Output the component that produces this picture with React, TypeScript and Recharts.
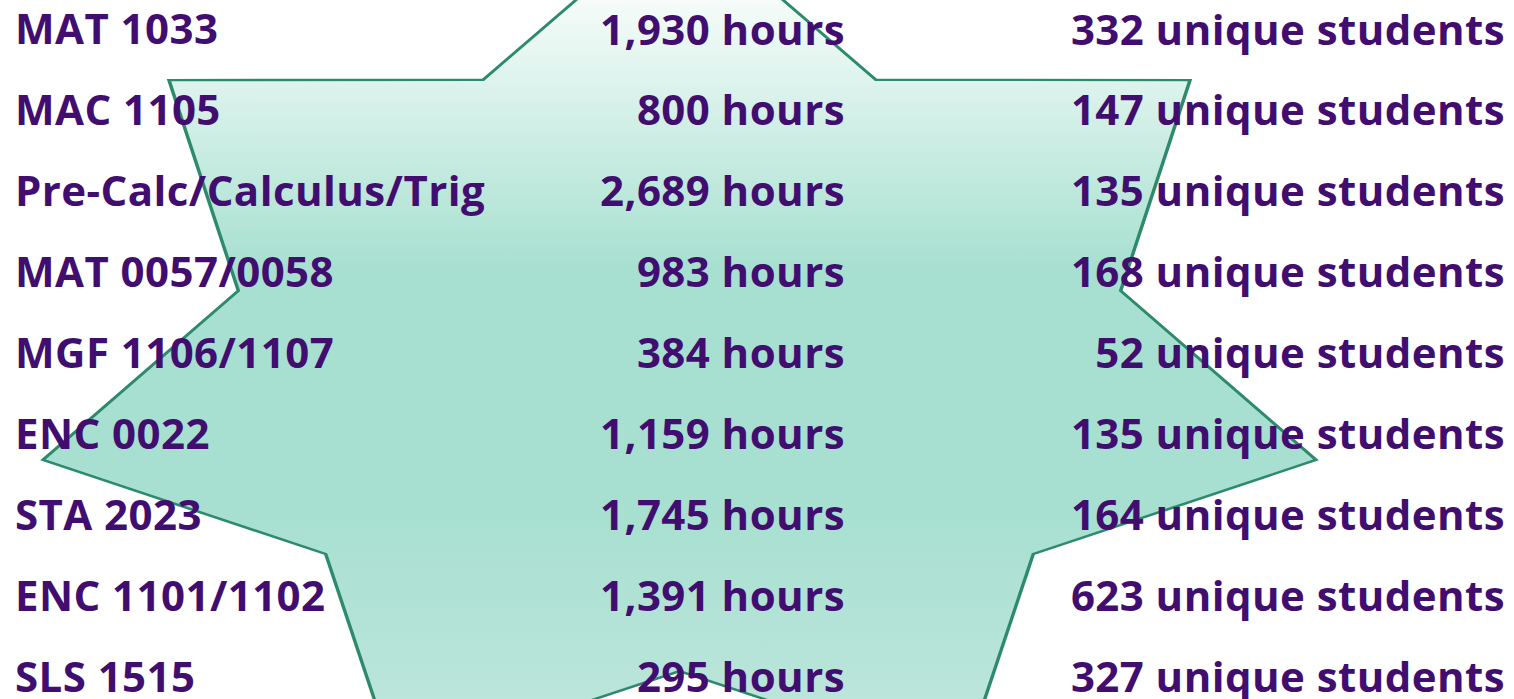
import React from 'react';
import {
  BarChart, Bar, XAxis, YAxis, LabelList,
  RadarChart, Radar, PolarAngleAxis, PolarRadiusAxis,
} from 'recharts';

// ---- table data ----
const courses = [
  'MAT 1033',
  'MAC 1105',
  'Pre-Calc/Calculus/Trig',
  'MAT 0057/0058',
  'MGF 1106/1107',
  'ENC 0022',
  'STA 2023',
  'ENC 1101/1102',
  'SLS 1515',
];
const hours = [1930, 800, 2689, 983, 384, 1159, 1745, 1391, 295];
const students = [332, 147, 135, 168, 52, 135, 164, 623, 327];

// ---- background 7-point star (outer / inner radius, clockwise from top) ----
const starKeys = ['p1', 'i1', 'p2', 'i2', 'p3', 'i3', 'p4', 'i4', 'p5', 'i5', 'p6', 'i6', 'p7', 'i7'];
const starRadii = [1, 0.693, 1, 0.693, 1, 0.693, 1, 0.693, 1, 0.693, 1, 0.693, 1, 0.693];

const tableData = courses.map((course, i) => ({ course, hours: hours[i], students: students[i] }));
const starData = starKeys.map((k, i) => ({ k, r: starRadii[i] }));

const TEXT = '#410E70';
const FONT = '"Open Sans", "Noto Sans", sans-serif';
const FS = 42;
const LS = 0.45;

const fmt = (v: number) => v.toLocaleString('en-US');

const rowCenter = (p: any) => {
  const vb = p.viewBox || {};
  const y = p.y ?? vb.y;
  const h = p.height ?? vb.height ?? 0;
  return y + h / 2;
};

const CourseTick = (p: any) => (
  <text x={15} y={p.y} dy={15} fontFamily={FONT} fontSize={FS} fontWeight={700} letterSpacing={LS} fill={TEXT} textAnchor="start">
    {p.payload.value}
  </text>
);

const HoursLabel = (p: any) => (
  <text x={845} y={rowCenter(p)} dy={15} fontFamily={FONT} fontSize={FS} fontWeight={700} letterSpacing={LS} fill={TEXT} textAnchor="end">
    {`${fmt(p.value)} hours`}
  </text>
);

const StudentsLabel = (p: any) => (
  <text x={1505} y={rowCenter(p)} dy={15} fontFamily={FONT} fontSize={FS} fontWeight={700} letterSpacing={LS} fill={TEXT} textAnchor="end">
    {`${fmt(p.value)} unique students`}
  </text>
);

const SCALE_Y = 0.6876;
const ROW = 80.9;

export default function App() {
  return (
    <div style={{ position: 'absolute', left: 0, top: 0, width: 1514, height: 699, overflow: 'hidden', background: '#ffffff' }}>
      <style>{`.star-layer path, .star-layer polygon { vector-effect: non-scaling-stroke; }`}</style>
      <div className="star-layer" style={{ position: 'absolute', left: 0, top: 0, transform: `scaleY(${SCALE_Y})`, transformOrigin: '0 0' }}>
        <RadarChart
          width={1514}
          height={1200}
          cx={679.5}
          cy={523.6}
          outerRadius={653}
          data={starData}
          margin={{ top: 0, right: 0, bottom: 0, left: 0 }}
        >
          <defs>
            <linearGradient id="starFill" x1="0" y1="0" x2="0" y2="1">
              <stop offset="0" stopColor="#FFFFFF" />
              <stop offset="0.1" stopColor="#F6FCFA" />
              <stop offset="0.42" stopColor="#A7E0D0" />
              <stop offset="0.70" stopColor="#A7E0D0" />
              <stop offset="0.92" stopColor="#BBE5DA" />
              <stop offset="1" stopColor="#C2E8DF" />
            </linearGradient>
          </defs>
          <PolarAngleAxis dataKey="k" tick={false} axisLine={false} tickLine={false} />
          <PolarRadiusAxis domain={[0, 1]} tick={false} axisLine={false} tickLine={false} />
          <Radar
            dataKey="r"
            stroke="#2E8A6D"
            strokeWidth={3.5}
            strokeLinejoin="miter"
            fill="url(#starFill)"
            fillOpacity={1}
            dot={false}
            isAnimationActive={false}
          />
        </RadarChart>
      </div>
      <div style={{ position: 'absolute', left: 0, top: 29.5 - ROW / 2 }}>
        <BarChart
          width={1514}
          height={ROW * 9}
          layout="vertical"
          data={tableData}
          margin={{ top: 0, right: 0, bottom: 0, left: 0 }}
        >
          <XAxis type="number" hide />
          <YAxis
            type="category"
            dataKey="course"
            width={1}
            axisLine={false}
            tickLine={false}
            tick={<CourseTick />}
            interval={0}
          />
          <Bar dataKey="hours" stackId="s" fill="transparent" isAnimationActive={false}>
            <LabelList dataKey="hours" content={<HoursLabel />} />
          </Bar>
          <Bar dataKey="students" stackId="s" fill="transparent" isAnimationActive={false}>
            <LabelList dataKey="students" content={<StudentsLabel />} />
          </Bar>
        </BarChart>
      </div>
    </div>
  );
}
